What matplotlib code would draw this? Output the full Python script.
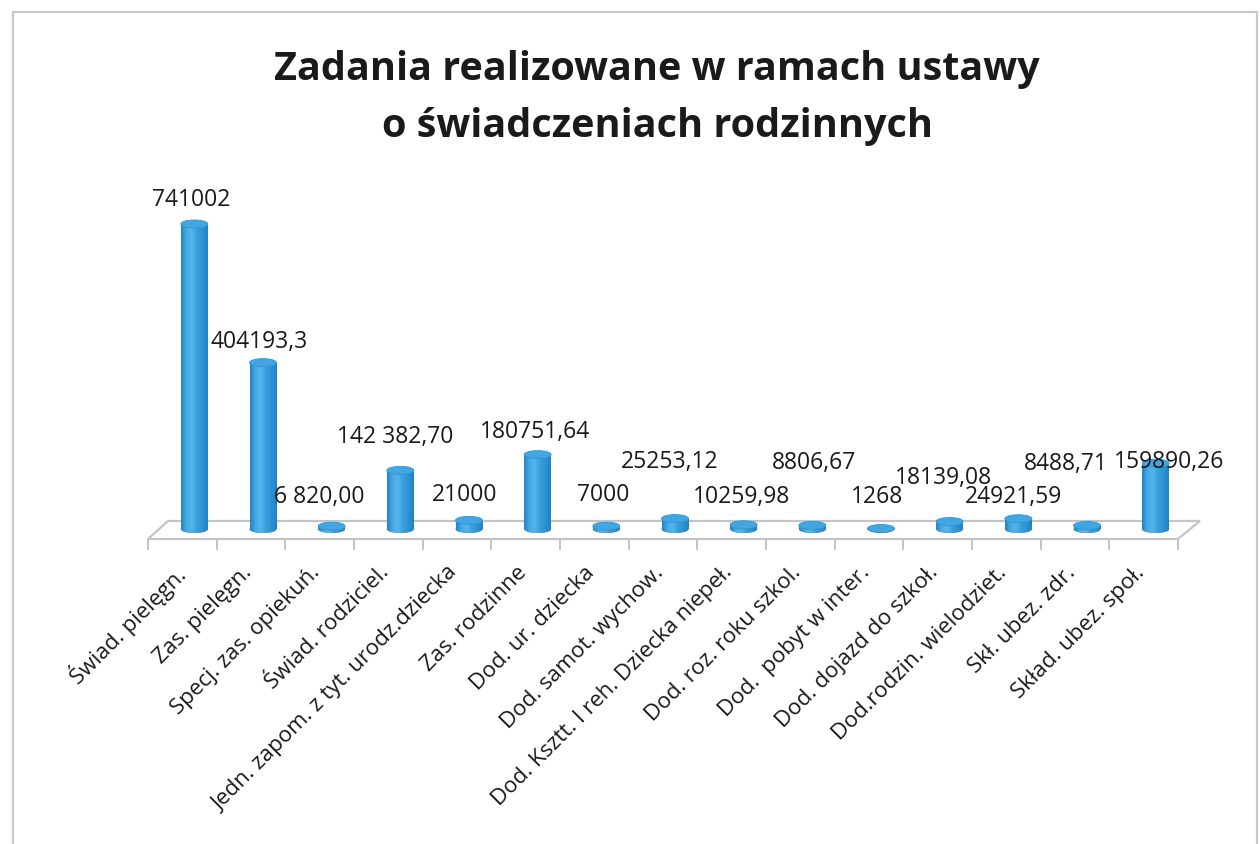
import matplotlib
matplotlib.use("Agg")
import matplotlib.pyplot as plt
import numpy as np
from matplotlib.patches import Ellipse, Rectangle, Polygon
from matplotlib.colors import LinearSegmentedColormap

# ---------------- data ----------------
categories = [
    "Świad. pielęgn.",
    "Zas. pielęgn.",
    "Specj. zas. opiekuń.",
    "Świad. rodziciel.",
    "Jedn. zapom. z tyt. urodz.dziecka",
    "Zas. rodzinne",
    "Dod. ur. dziecka",
    "Dod. samot. wychow.",
    "Dod. Ksztt. I reh. Dziecka niepeł.",
    "Dod. roz. roku szkol.",
    "Dod.  pobyt w inter.",
    "Dod. dojazd do szkoł.",
    "Dod.rodzin. wielodziet.",
    "Skł. ubez. zdr.",
    "Skład. ubez. społ.",
]
values = [741002, 404193.3, 6820.00, 142382.70, 21000, 180751.64, 7000,
          25253.12, 10259.98, 8806.67, 1268, 18139.08, 24921.59, 8488.71,
          159890.26]
value_labels = ["741002", "404193,3", "6 820,00", "142 382,70", "21000",
                "180751,64", "7000", "25253,12", "10259,98", "8806,67", "1268",
                "18139,08", "24921,59", "8488,71", "159890,26"]
title = "Zadania realizowane w ramach ustawy\no świadczeniach rodzinnych"

# label placement (pixel offsets from the bar top: dx, dy) – styling only
label_dx = [-3, -4, -12, -5, -4, -3, -3, -5, -2, 2, -4, -6, -5, -21, 13]
label_dy = [25, 22, 30, 34, 26, 24, 32, 58, 29, 63, 32, 45, 23, 63, 2]

# ---------------- figure ----------------
W_PX, H_PX = 1260, 845
fig = plt.figure(figsize=(W_PX / 100, H_PX / 100), dpi=100)
fig.patch.set_facecolor("white")

FONT = ["Open Sans", "DejaVu Sans"]

# frame like the scanned chart border
fig.add_artist(Rectangle((13 / W_PX, -0.01), (1257 - 13) / W_PX, (H_PX - 13) / H_PX + 0.01,
                         transform=fig.transFigure, fill=False,
                         edgecolor="#C8C8C8", lw=1.6))

# axes geometry in pixels
x_left, x_right = 148, 1178      # front edge of the floor
y_top, y_bot = 200, 545
ax = fig.add_axes([x_left / W_PX, (H_PX - y_bot) / H_PX,
                   (x_right - x_left) / W_PX, (y_bot - y_top) / H_PX])
ax.set_axis_off()
n = len(categories)
ax.set_xlim(-0.5, n - 0.5)
px_per_cat = (x_right - x_left) / n
k = 305.0 / max(values)          # pixels per unit
ax.set_ylim(-15 / k, (y_bot - y_top - 15) / k)

def dxp(p):
    return p / px_per_cat

def dyp(p):
    return p / k

# floor (3-D wall base)
floor = Polygon([(-0.5, dyp(-10)), (n - 0.5, dyp(-10)),
                 (n - 0.5 + dxp(22), dyp(8)), (-0.5 + dxp(20), dyp(8))],
                closed=True, facecolor="white", edgecolor="#C4C4C4",
                lw=1.6, clip_on=False, zorder=1)
ax.add_patch(floor)
for b in range(n + 1):
    ax.plot([b - 0.5, b - 0.5], [dyp(-10), dyp(-20)], color="#C4C4C4",
            lw=1.4, clip_on=False, zorder=1)

# cylinders
cmap = LinearSegmentedColormap.from_list(
    "cyl", ["#2483C6", "#45AAE4", "#55B5EA", "#389FDC", "#2D92D2", "#2381C2"])
grad = np.linspace(0, 1, 64).reshape(1, -1)
bw = dxp(27)
eh = dyp(8)
xs = np.arange(n) + dxp(12)
for x, v in zip(xs, values):
    body = Rectangle((x - bw / 2, 0), bw, v, facecolor="#3398D6",
                     edgecolor="none", zorder=3, clip_on=False)
    ax.add_patch(body)
    bottom = Ellipse((x, 0), bw, eh, facecolor="#2C8DCD", edgecolor="none",
                     zorder=2.9, clip_on=False)
    ax.add_patch(bottom)
    if v * k > 1.5:
        im = ax.imshow(grad, cmap=cmap, aspect="auto",
                       extent=(x - bw / 2, x + bw / 2, 0, v), zorder=3.1,
                       clip_on=True)
        im.set_clip_path(body)
        im2 = ax.imshow(grad, cmap=cmap, aspect="auto",
                        extent=(x - bw / 2, x + bw / 2, -eh / 2, 0), zorder=3.1)
        im2.set_clip_path(bottom)
    top = Ellipse((x, v), bw, eh, facecolor="#43A6E0", edgecolor="#3394D2",
                  lw=0.6, zorder=3.2, clip_on=False)
    ax.add_patch(top)

# value labels
for x, v, lab, ddx, ddy in zip(xs, values, value_labels, label_dx, label_dy):
    ax.text(x + dxp(ddx), v + dyp(ddy), lab, ha="center", va="center",
            fontsize=16.5, family=FONT, color="#1a1a1a", zorder=5)

# category labels (rotated 45 degrees)
for i, cat in enumerate(categories):
    ax.text(i + dxp(-10), dyp(-32), cat, rotation=45, rotation_mode="anchor",
            ha="right", va="top", fontsize=16, family=FONT, color="#1a1a1a",
            clip_on=False)

# title
fig.text(657 / W_PX, 1 - 50 / H_PX, title, ha="center", va="top",
         fontsize=28.5, fontweight="bold", family=FONT, color="#1a1a1a",
         linespacing=1.6)

fig.savefig("out.png", dpi=100, facecolor="white")
